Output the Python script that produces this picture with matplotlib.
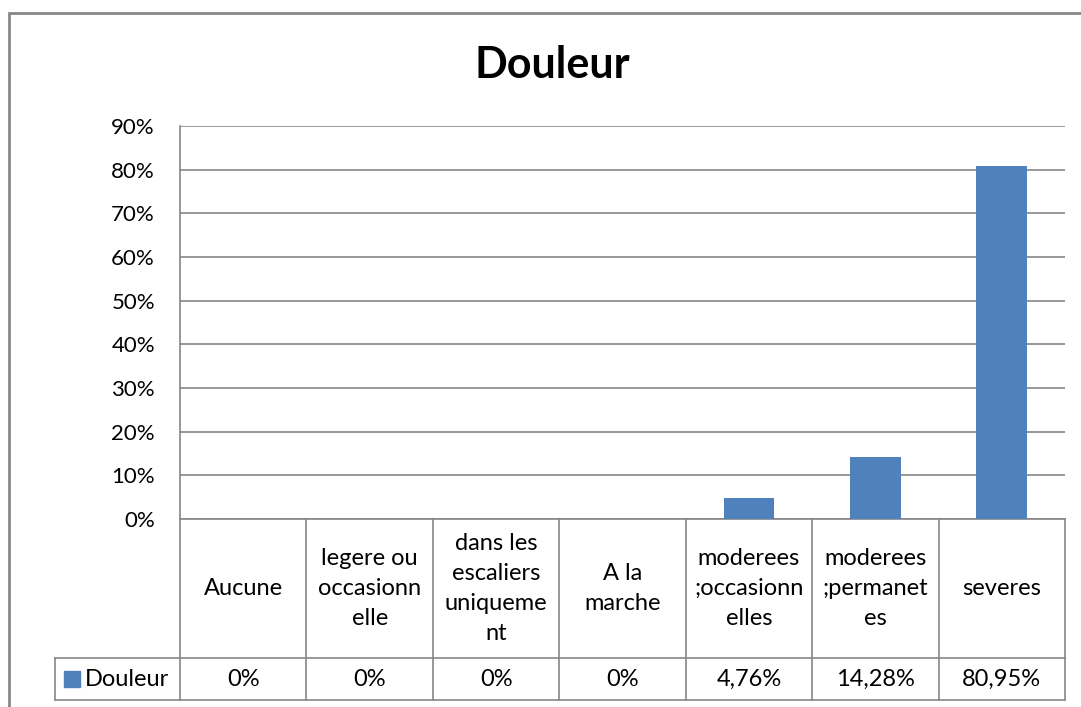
"""Douleur: share of patients per pain level, Excel-style column chart with data table."""

import matplotlib

matplotlib.use("Agg")
import matplotlib.pyplot as plt
from matplotlib.lines import Line2D
from matplotlib.patches import Rectangle

categories = [
    "Aucune",
    "legere ou\noccasionn\nelle",
    "dans les\nescaliers\nuniqueme\nnt",
    "A la\nmarche",
    "moderees\n;occasionn\nelles",
    "moderees\n;permanet\nes",
    "severes",
]
values = [0.0, 0.0, 0.0, 0.0, 4.76, 14.28, 80.95]
value_labels = ["0%", "0%", "0%", "0%", "4,76%", "14,28%", "80,95%"]
series_name = "Douleur"
yticks = [0, 10, 20, 30, 40, 50, 60, 70, 80, 90]

BLUE = "#4F81BD"
GRAY = "#868686"
W, H = 1081, 707
FS = 17

plt.rcParams["font.family"] = ["Lato", "DejaVu Sans"]
fig = plt.figure(figsize=(W / 100, H / 100), dpi=100)


def fx(px):
    return px / W


def fy(py):
    return 1 - py / H


# plot area in pixels
left, right, top, bottom = 180, 1065, 126, 519
ax = fig.add_axes([fx(left), fy(bottom), fx(right - left), (bottom - top) / H])

n = len(categories)
x = list(range(n))
ax.bar(x, values, width=0.4, color=BLUE, zorder=3)
ax.set_xlim(-0.5, n - 0.5)
ax.set_ylim(0, 90)
ax.set_yticks(yticks)
ax.set_yticklabels([f"{t}%" for t in yticks])
ax.yaxis.grid(True, color=GRAY, lw=1.2)
ax.set_axisbelow(True)
ax.set_xticks([])
for s in ("top", "right", "bottom"):
    ax.spines[s].set_visible(False)
ax.spines["left"].set_color(GRAY)
ax.spines["left"].set_linewidth(1.2)
ax.tick_params(axis="y", length=0, pad=18, labelsize=16)

# data table below the axis, x in data units, y in axes fraction
tr = ax.get_xaxis_transform()
ah = bottom - top
y_hdr = -(658 - bottom) / ah
y_row = -(700 - bottom) / ah
x_leg = -0.5 - (left - 55) / ((right - left) / n)
kw = dict(transform=tr, color=GRAY, lw=1.2, clip_on=False)
for b in [i - 0.5 for i in range(n + 1)]:
    ax.plot([b, b], [0, y_row], **kw)
ax.plot([-0.5, n - 0.5], [0, 0], **kw)
ax.plot([x_leg, n - 0.5], [y_hdr, y_hdr], **kw)
ax.plot([x_leg, n - 0.5], [y_row, y_row], **kw)
ax.plot([x_leg, x_leg], [y_hdr, y_row], **kw)

for xi, cat, lab in zip(x, categories, value_labels):
    ax.text(xi, y_hdr / 2, cat, transform=tr, ha="center", va="center",
            fontsize=FS, linespacing=1.52)
    ax.text(xi, (y_hdr + y_row) / 2, lab, transform=tr, ha="center",
            va="center", fontsize=FS)

# legend key in the table
fig.patches.append(Rectangle((fx(64), fy(687)), fx(16), 16 / H,
                             transform=fig.transFigure, color=BLUE))
fig.text(fx(85), fy(679), series_name, ha="left", va="center", fontsize=FS)

fig.text(fx(552), fy(65), "Douleur", ha="center", va="center",
         fontsize=31, fontweight="bold")

# chart frame: only its top and left edges fall inside the picture
fig.lines.append(Line2D([fx(8.5), fx(8.5), fx(1100)],
                        [fy(720), fy(12.5), fy(12.5)],
                        transform=fig.transFigure, color="#888888", lw=2,
                        solid_capstyle="butt", solid_joinstyle="miter"))

fig.savefig("out.png", dpi=100)
